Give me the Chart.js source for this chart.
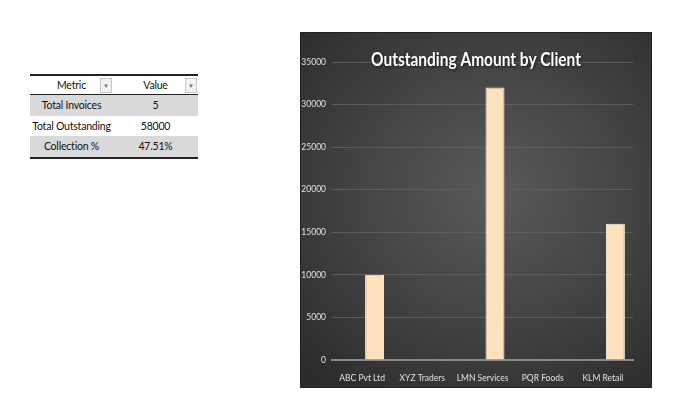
<!DOCTYPE html>
<html>
<head>
<meta charset="utf-8">
<script src="https://cdn.jsdelivr.net/npm/chart.js@4"></script>
<style>
  body { margin: 0; background: #fff; width: 680px; height: 411px; position: relative; overflow: hidden; }
  #tbl { position: absolute; left: 30px; top: 74px; border-collapse: collapse; font-family: Lato, sans-serif; font-size: 10.5px; color: #111; white-space: nowrap; }
  #tbl td, #tbl th { padding: 0; text-align: center; font-weight: normal; position: relative; letter-spacing: -0.2px; }
  #tbl th { height: 18px; border-top: 2px solid #222; border-bottom: 1.5px solid #222; }
  #tbl td { height: 20.5px; }
  #tbl tr.band td { background: #d9d9d9; }
  #tbl tr:last-child td { border-bottom: 2px solid #222; }
  .c1 { width: 83px; }
  .c2 { width: 85px; }
  .dd { position: absolute; right: 1px; top: 2px; width: 10px; height: 13px; border: 1px solid #c8c8c8; background: #f2f2f2; font-size: 6px; line-height: 13px; color: #777; text-align: center; letter-spacing: 0; }
  #box { position: absolute; left: 301px; top: 33px; width: 350px; height: 354px;
    background: radial-gradient(ellipse 75% 70% at 55% 45%, #5a5a5a 0%, #474747 45%, #2c2c2c 100%);
    box-shadow: 0 0 0 1px #222; }
</style>
</head>
<body>
<table id="tbl">
  <tr><th class="c1">Metric<span class="dd">&#9660;</span></th><th class="c2">Value<span class="dd">&#9660;</span></th></tr>
  <tr class="band"><td>Total Invoices</td><td>5</td></tr>
  <tr><td>Total Outstanding</td><td>58000</td></tr>
  <tr class="band"><td>Collection %</td><td>47.51%</td></tr>
</table>
<div id="box"><canvas id="myChart" width="350" height="354"></canvas></div>
<script>
const clients = ["ABC Pvt Ltd", "XYZ Traders", "LMN Services", "PQR Foods", "KLM Retail"]
const outstanding = [10000, 0, 32000, 0, 16000]
const emptySeries = [null, null, null, null, null]
const yTicks = [0, 5000, 10000, 15000, 20000, 25000, 30000, 35000]

const font = "Lato, sans-serif"

// title sits over the plot like in excel, squeezed to calibri width
const titlePlugin = {
  id: 'overlayTitle',
  afterDraw(chart) {
    const c = chart.ctx
    const txt = 'Outstanding Amount by Client'
    c.save()
    c.font = "bold 19px " + font
    const w = c.measureText(txt).width
    c.translate(175, 27)
    c.scale(210 / w, 1)
    c.textAlign = 'center'
    c.textBaseline = 'middle'
    c.shadowColor = 'rgba(0,0,0,0.7)'
    c.shadowBlur = 3
    c.shadowOffsetX = 1
    c.shadowOffsetY = 1
    c.fillStyle = '#ffffff'
    c.fillText(txt, 0, 0)
    c.restore()
  }
}

const ctx = document.getElementById('myChart')
new Chart(ctx, {
  type: 'bar',
  data: {
    labels: clients,
    datasets: [{
      label: 'blank',
      data: emptySeries
    }, {
      label: 'Outstanding Amount',
      data: outstanding,
      backgroundColor: '#fde2bd',
      borderColor: '#fff2de',
      borderWidth: 1
    }]
  },
  options: {
    responsive: false,
    animation: false,
    categoryPercentage: 0.83,
    barPercentage: 0.76,
    layout: { padding: { top: 29, right: 18, left: 0, bottom: 0 } },
    plugins: { legend: { display: false }, tooltip: { enabled: false } },
    scales: {
      x: {
        grid: { display: false, drawTicks: false },
        border: { color: '#8a8a8a', width: 2 },
        ticks: { color: '#e0e0e0', font: { family: font, size: 8.5 }, padding: 13, maxRotation: 0 },
        afterFit: (s) => { s.height = 27 }
      },
      y: {
        min: 0,
        max: 35000,
        afterBuildTicks: (s) => { s.ticks = yTicks.map(v => ({ value: v })) },
        grid: { color: (c) => c.tick && c.tick.value === 0 ? 'rgba(0,0,0,0)' : '#5c5c5c', drawTicks: false },
        border: { display: false },
        ticks: { color: '#e0e0e0', font: { family: font, size: 8.5 }, padding: 6, callback: (v) => String(v) },
        afterFit: (s) => { s.width = 31 }
      }
    }
  },
  plugins: [titlePlugin]
})
</script>
</body>
</html>
